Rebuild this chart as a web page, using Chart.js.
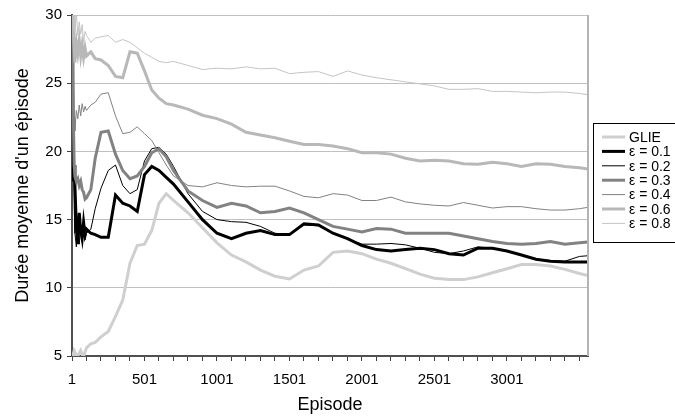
<!DOCTYPE html>
<html>
<head>
<meta charset="utf-8">
<script src="https://cdn.jsdelivr.net/npm/chart.js@4/dist/chart.umd.min.js"></script>
<style>
  body { margin: 0; background: #fff; }
  #wrap { width: 675px; height: 419px; position: relative; }
</style>
</head>
<body>
<div id="wrap"><canvas id="chart"></canvas></div>
<script>
// episodes where the curves were read
var episodes = [1, 6, 11, 16, 21, 31, 41, 51, 61, 71, 81, 91, 101, 131, 161, 201, 251, 301, 351, 401, 451, 501, 551, 601, 651, 701,
  801, 901, 1001, 1101, 1201, 1301, 1401, 1501, 1601, 1701, 1801, 1901, 2001, 2101, 2201, 2301, 2401, 2501,
  2601, 2701, 2801, 2901, 3001, 3101, 3201, 3301, 3401, 3501, 3560];

var glie = [5.1, 5.0, 5.2, 5.0, 5.3, 5.1, 5.0, 5.2, 5.4, 5.1, 5.0, 5.3, 5.6, 5.9, 6.0, 6.4, 6.8, 7.9, 9.1, 11.8, 13.1, 13.2, 14.2, 16.2, 16.9, 16.4,
  15.5, 14.4, 13.3, 12.4, 11.9, 11.3, 10.85, 10.65, 11.3, 11.6, 12.6, 12.7, 12.5, 12.1, 11.8, 11.4, 11.0, 10.7,
  10.6, 10.6, 10.8, 11.1, 11.4, 11.7, 11.7, 11.6, 11.35, 11.05, 10.9];
var eps01 = [31, 22, 17.8, 19.0, 17.5, 14.5, 13.2, 15.5, 14.2, 13.6, 14.8, 13.9, 14.3, 14.0, 13.9, 13.7, 13.7, 16.8, 16.2, 16.0, 15.6, 18.3, 18.9, 18.6, 18.1, 17.6,
  16.3, 15.0, 14.0, 13.6, 14.0, 14.2, 13.9, 13.9, 14.7, 14.6, 14.0, 13.6, 13.1, 12.8, 12.7, 12.8, 12.9, 12.8,
  12.5, 12.4, 12.9, 12.9, 12.7, 12.4, 12.1, 11.95, 11.9, 11.9, 11.9];
var eps02 = [31, 25, 20.0, 16.0, 14.0, 13.0, 14.8, 13.2, 14.6, 13.4, 14.2, 13.5, 14.0, 14.3, 15.8, 17.3, 18.6, 19.0, 17.5, 16.9, 17.2, 19.3, 20.2, 20.3, 19.8, 18.9,
  16.9, 15.6, 15.0, 14.85, 14.8, 14.5, 14.0, 13.9, 14.6, 14.55, 14.0, 13.6, 13.2, 13.2, 13.25, 13.15, 12.9, 12.6,
  12.5, 12.7, 13.0, 12.9, 12.7, 12.4, 12.1, 12.0, 11.95, 12.3, 12.35];
var eps03 = [31, 26, 22.0, 19.0, 18.2, 17.8, 18.0, 17.5, 17.8, 17.2, 17.0, 16.5, 16.6, 17.2, 19.5, 21.4, 21.5, 19.8, 18.6, 18.0, 18.2, 18.9, 19.9, 20.2, 19.6, 18.6,
  17.1, 16.4, 15.9, 16.2, 16.0, 15.5, 15.6, 15.85, 15.5, 15.0, 14.5, 14.3, 14.1, 14.35, 14.3, 14.0, 14.0, 14.0,
  14.0, 13.8, 13.6, 13.4, 13.25, 13.2, 13.25, 13.4, 13.2, 13.3, 13.35];
var eps04 = [31, 28, 25.0, 22.5, 21.5, 23.0, 22.4, 23.4, 22.6, 23.5, 22.9, 23.3, 23.0, 23.4, 23.6, 24.2, 24.3, 22.6, 21.3, 21.4, 21.8, 21.3, 20.8, 19.9, 19.0, 18.2,
  17.5, 17.4, 17.7, 17.5, 17.4, 17.45, 17.45, 17.1, 16.7, 16.6, 16.9, 16.8, 16.4, 16.4, 16.65, 16.3, 16.15, 16.05,
  16.0, 16.25, 16.05, 15.85, 15.95, 15.95, 15.8, 15.7, 15.7, 15.8, 15.9];
var eps06 = [31, 30, 28.5, 27.5, 26.5, 28.0, 27.2, 28.1, 27.0, 27.8, 26.9, 27.6, 27.0, 27.3, 26.8, 26.7, 26.3, 25.5, 25.4, 27.3, 27.2, 25.9, 24.5, 23.9, 23.5, 23.4,
  23.1, 22.65, 22.4, 22.0, 21.4, 21.2, 21.0, 20.75, 20.5, 20.5, 20.4, 20.2, 19.9, 19.9, 19.8, 19.5, 19.3, 19.35,
  19.3, 19.1, 19.05, 19.2, 19.1, 18.9, 19.1, 19.05, 18.9, 18.8, 18.7];
var eps08 = [31, 30.5, 29.0, 30.5, 28.8, 30.2, 28.5, 29.5, 28.6, 29.3, 28.0, 28.8, 28.5, 28.0, 28.3, 28.4, 28.5, 28.0, 28.2, 28.0, 27.6, 27.2, 26.9, 26.6, 26.5, 26.6,
  26.3, 26.0, 26.1, 26.05, 26.2, 26.05, 26.1, 25.7, 25.8, 25.85, 25.5, 25.9, 25.6, 25.4, 25.25, 25.1, 24.95, 24.8,
  24.55, 24.55, 24.6, 24.4, 24.4, 24.35, 24.3, 24.35, 24.35, 24.25, 24.15];

var seriesNames = ["GLIE", "ε = 0.1", "ε = 0.2", "ε = 0.3", "ε = 0.4", "ε = 0.6", "ε = 0.8"];
var xTickLabels = [1, 501, 1001, 1501, 2001, 2501, 3001];
var xMinorStep = 100;
var yTicks = [5, 10, 15, 20, 25, 30];

var seriesValues = [glie, eps01, eps02, eps03, eps04, eps06, eps08];
var lineColors = ["#cfcfcf", "#000000", "#000000", "#828282", "#828282", "#b8b8b8", "#c4c4c4"];
var lineWidths = [3, 3, 1, 3, 1, 3, 1];

function toPoints(values) {
  return values.map(function (v, i) {
    return { x: episodes[i], y: v };
  });
}

var datasets = seriesValues.map(function (values, i) {
  return {
    label: seriesNames[i],
    data: toPoints(values),
    borderColor: lineColors[i],
    borderWidth: lineWidths[i],
    pointRadius: 0,
    tension: 0,
    fill: false,
    order: 7 - i
  };
});

// right border of the plot + boxed legend (cut by the window edge like the original)
var framePlugin = {
  id: "frame",
  afterDraw: function (chart) {
    var ctx = chart.ctx;
    var area = chart.chartArea;
    ctx.save();
    ctx.strokeStyle = "#b4b4b4";
    ctx.lineWidth = 2;
    ctx.beginPath();
    ctx.moveTo(area.right, area.top);
    ctx.lineTo(area.right, area.bottom);
    ctx.stroke();

    var boxX = 593.5, boxY = 123.5, boxW = 130, boxH = 119;
    ctx.lineWidth = 1;
    ctx.strokeStyle = "#000";
    ctx.strokeRect(boxX, boxY, boxW, boxH);

    ctx.font = "14px 'Liberation Sans', Arial, sans-serif";
    ctx.textBaseline = "middle";
    ctx.fillStyle = "#000";
    chart.data.datasets.forEach(function (ds, i) {
      var y = 137 + i * 14.4;
      ctx.strokeStyle = ds.borderColor;
      ctx.lineWidth = ds.borderWidth;
      ctx.beginPath();
      ctx.moveTo(602, y);
      ctx.lineTo(625, y);
      ctx.stroke();
      ctx.fillText(ds.label, 629, y + 1);
    });
    ctx.restore();
  }
};

new Chart(document.getElementById("chart"), {
  type: "line",
  data: { datasets: datasets },
  options: {
    responsive: true,
    maintainAspectRatio: false,
    animation: false,
    layout: { padding: { top: 15, right: 87, left: 0, bottom: 0 } },
    plugins: { legend: { display: false }, tooltip: { enabled: false } },
    scales: {
      x: {
        type: "linear",
        min: 1,
        max: episodes[episodes.length - 1],
        afterBuildTicks: function (scale) {
          var t = [];
          for (var v = 1; v <= scale.max; v += xMinorStep) t.push({ value: v });
          scale.ticks = t;
        },
        afterFit: function (scale) { scale.height = 63; },
        ticks: {
          autoSkip: false,
          maxRotation: 0,
          padding: 10,
          color: "#000",
          font: { family: "'Liberation Sans', Arial, sans-serif", size: 15 },
          callback: function (v) {
            return xTickLabels.indexOf(v) >= 0 ? String(v) : "";
          }
        },
        grid: { drawOnChartArea: false, tickLength: 5, tickColor: "#404040", tickWidth: 1 },
        border: { color: "#505050", width: 2 },
        title: {
          display: true,
          text: "Episode",
          color: "#000",
          padding: { top: 0, bottom: 3 },
          font: { family: "'Liberation Sans', Arial, sans-serif", size: 18 }
        }
      },
      y: {
        min: 5,
        max: 30,
        afterBuildTicks: function (scale) {
          scale.ticks = yTicks.map(function (v) { return { value: v }; });
        },
        afterFit: function (scale) { scale.width = 72; },
        ticks: {
          padding: 5,
          color: "#000",
          font: { family: "'Liberation Sans', Arial, sans-serif", size: 15 }
        },
        grid: { color: "#c0c0c0", lineWidth: 1, tickLength: 5, tickColor: "#404040" },
        border: { color: "#505050", width: 2 },
        title: {
          display: true,
          text: "Durée moyenne d'un épisode",
          color: "#000",
          padding: { top: 12, bottom: 0 },
          font: { family: "'Liberation Sans', Arial, sans-serif", size: 18 }
        }
      }
    }
  },
  plugins: [framePlugin]
});
</script>
</body>
</html>
